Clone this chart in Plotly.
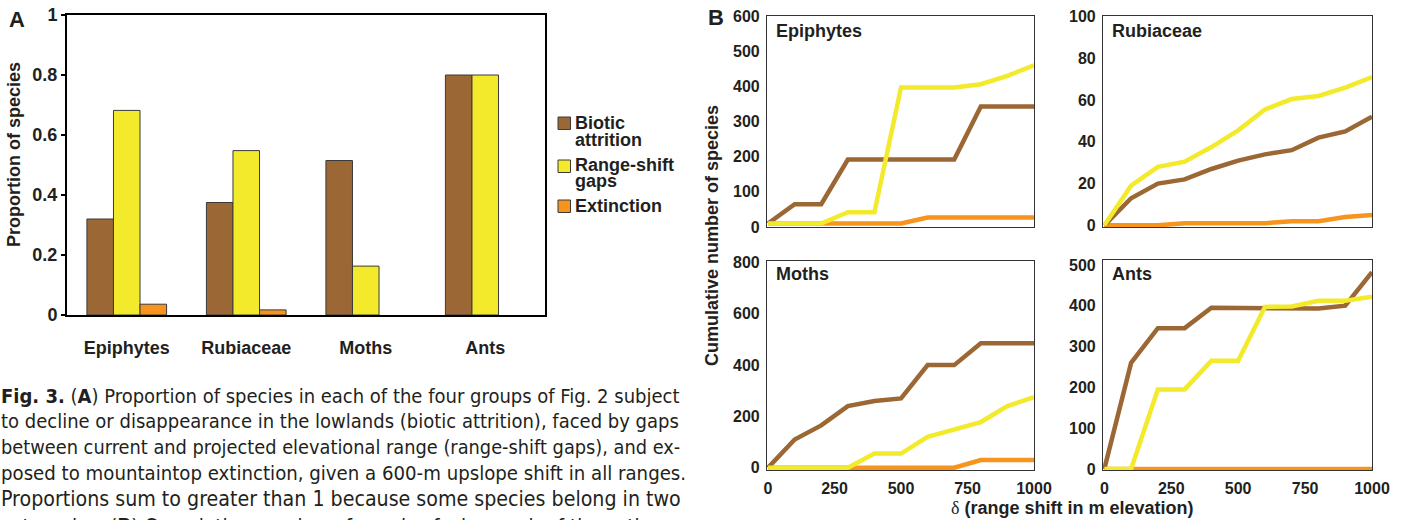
import plotly.graph_objects as go

W, H = 1402, 520

# ---------------- Panel A data ----------------
groups = ["Epiphytes", "Rubiaceae", "Moths", "Ants"]
biotic_attrition = [0.32, 0.375, 0.515, 0.80]
range_shift_gaps = [0.682, 0.548, 0.163, 0.80]
extinction = [0.036, 0.017, 0.0, 0.0]
a_ticks = [0, 0.2, 0.4, 0.6, 0.8, 1.0]
a_ticktext = ["0", "0.2", "0.4", "0.6", "0.8", "1"]

# ---------------- Panel B data ----------------
delta = [0, 100, 200, 300, 400, 500, 600, 700, 800, 900, 1000]
epi_biotic = [10, 65, 65, 192, 192, 192, 192, 192, 343, 343, 343]
epi_gaps = [10, 10, 10, 42, 42, 397, 397, 397, 406, 430, 460]
epi_ext = [10, 10, 10, 10, 10, 10, 27, 27, 27, 27, 27]
rub_biotic = [0, 13, 20, 22, 27, 31, 34, 36, 42, 45, 52]
rub_gaps = [0, 19, 28, 30.5, 37.5, 45.5, 55.5, 60.5, 62, 66, 71]
rub_ext = [0, 0, 0, 1, 1, 1, 1, 2, 2, 4, 5]
moth_biotic = [0, 110, 165, 240, 260, 270, 400, 400, 485, 485, 485]
moth_gaps = [0, 0, 0, 0, 55, 55, 120, 148, 178, 240, 275]
moth_ext = [0, 0, 0, 0, 0, 0, 0, 0, 30, 30, 30]
ant_biotic = [0, 260, 345, 345, 395, 395, 395, 395, 393, 400, 482]
ant_gaps = [0, 0, 195, 195, 265, 265, 397, 398, 412, 412, 422]
ant_ext = [0, 0, 0, 0, 0, 0, 0, 0, 0, 0, 0]
b_xticks = [0, 250, 500, 750, 1000]

BROWN = "#9B6734"
YELLOW = "#F2EA2A"
ORANGE = "#F7941D"
TXT = "#231F20"
SANS = "Liberation Sans, Arial, Helvetica, sans-serif"
NARROW = "DejaVu Sans Condensed, Liberation Sans Narrow, sans-serif"


def px(x):
    return x / W


def py(y):
    return 1 - y / H


fig = go.Figure()

# Panel A bars (no outline drawn for zero-height bars)
for name, vals, col in [("Biotic attrition", biotic_attrition, BROWN),
                        ("Range-shift gaps", range_shift_gaps, YELLOW),
                        ("Extinction", extinction, ORANGE)]:
    fig.add_trace(go.Bar(x=groups, y=vals, name=name, xaxis="x", yaxis="y",
                         marker=dict(color=col,
                                     line=dict(color="#3a3a3a",
                                               width=[1 if v > 0 else 0 for v in vals])),
                         showlegend=False))

# Panel B lines
panels = [
    ("x2", "y2", epi_biotic, epi_gaps, epi_ext),
    ("x3", "y3", rub_biotic, rub_gaps, rub_ext),
    ("x4", "y4", moth_biotic, moth_gaps, moth_ext),
    ("x5", "y5", ant_biotic, ant_gaps, ant_ext),
]
for xa, ya, b, g, e in panels:
    for vals, col in [(e, ORANGE), (b, BROWN), (g, YELLOW)]:
        fig.add_trace(go.Scatter(x=delta, y=vals, mode="lines", xaxis=xa, yaxis=ya,
                                 line=dict(color=col, width=4.5), showlegend=False))

tickfont_a = dict(family=SANS, size=18, color=TXT, weight="bold")
tickfont_b = dict(family=SANS, size=16, color=TXT, weight="bold")

layout = dict(
    template="none",
    width=W, height=H, margin=dict(l=0, r=0, t=0, b=0, pad=0), autosize=False,
    paper_bgcolor="white", plot_bgcolor="white",
    barmode="group", bargap=1/3, bargroupgap=0,
    showlegend=False,
    xaxis=dict(domain=[px(67), px(545)], range=[-0.5, 3.5], showline=True, mirror=True,
               linecolor="black", linewidth=2, ticks="", tickfont=tickfont_a,
               ticklabelstandoff=15, showgrid=False, zeroline=False, automargin=False),
    yaxis=dict(domain=[py(315), py(15)], range=[0, 1], showline=True, mirror=True,
               linecolor="black", linewidth=2, ticks="outside", ticklen=4, tickwidth=1.5,
               tickcolor="black", tickvals=a_ticks, ticktext=a_ticktext, tickfont=tickfont_a,
               showgrid=False, zeroline=False, anchor="x", automargin=False),
)

b_axes = {
    "2": ([767, 1034], [16, 227], [-4, 1000], [0, 600], [0, 100, 200, 300, 400, 500, 600], False),
    "3": ([1103, 1372], [16, 227], [-5, 1000], [-0.8, 100.3], [0, 20, 40, 60, 80, 100], False),
    "4": ([767, 1034], [261, 470], [-4, 1000], [-9, 806], [0, 200, 400, 600, 800], True),
    "5": ([1103, 1372], [260, 470], [-5, 1000], [-2.5, 512], [0, 100, 200, 300, 400, 500], True),
}
for k, (xd, yd, xr, yr, yt, showx) in b_axes.items():
    layout["xaxis" + k] = dict(domain=[px(xd[0]), px(xd[1])], range=xr, anchor="y" + k,
                               showline=True, mirror=True, linecolor="#333", linewidth=1.2,
                               ticks="", tickvals=b_xticks, showticklabels=showx,
                               tickfont=tickfont_b, ticklabelstandoff=4,
                               showgrid=False, zeroline=False, automargin=False)
    layout["yaxis" + k] = dict(domain=[py(yd[1]), py(yd[0])], range=yr, anchor="x" + k,
                               showline=True, mirror=True, linecolor="#333", linewidth=1.2,
                               ticks="", tickvals=yt, tickfont=tickfont_b,
                               ticklabelstandoff=3,
                               showgrid=False, zeroline=False, automargin=False)

fig.update_layout(**layout)

ann = []


def add_text(text, x, y, size=18, bold=True, xanchor="left", yanchor="middle",
             family=SANS, angle=0):
    ann.append(dict(text=text, x=px(x), y=py(y), xref="paper", yref="paper",
                    xanchor=xanchor, yanchor=yanchor, showarrow=False, textangle=angle,
                    borderpad=0,
                    font=dict(family=family, size=size, color=TXT,
                              weight="bold" if bold else "normal")))


# panel letters
add_text("A", 17, 20, size=22, xanchor="center")
add_text("B", 716, 18, size=22, xanchor="center")

# axis titles
add_text("Proportion of species", 14, 155, xanchor="center", angle=-90)
add_text("Cumulative number of species", 712, 236, xanchor="center", angle=-90)
add_text("<span style='font-family:Liberation Serif, Times New Roman, serif;font-weight:normal'>δ</span>"
         " (range shift in m elevation)", 1072, 508, xanchor="center")

# subplot titles
add_text("Epiphytes", 775, 31)
add_text("Rubiaceae", 1111, 31)
add_text("Moths", 775, 274)
add_text("Ants", 1111, 274)

# legend (manual swatches + labels)
shapes = []
for (y0, col) in [(117, BROWN), (160, YELLOW), (200, ORANGE)]:
    shapes.append(dict(type="rect", xref="paper", yref="paper",
                       x0=px(558), x1=px(570.5), y0=py(y0 + 12.5), y1=py(y0),
                       fillcolor=col, line=dict(color="#3a3a3a", width=1)))
add_text("Biotic", 574, 123)
add_text("attrition", 574, 140.5)
add_text("Range-shift", 574, 165)
add_text("gaps", 574, 181)
add_text("Extinction", 574, 206.5)

# caption
caption = [
    "<b>Fig. 3.</b> (<b>A</b>) Proportion of species in each of the four groups of Fig. 2 subject",
    "to decline or disappearance in the lowlands (biotic attrition), faced by gaps",
    "between current and projected elevational range (range-shift gaps), and ex-",
    "posed to mountaintop extinction, given a 600-m upslope shift in all ranges.",
    "Proportions sum to greater than 1 because some species belong in two",
    "categories. (<b>B</b>) Cumulative number of species facing each of these three",
]
caption_sizes = [20.0, 20.0, 19.8, 20.2, 21.2, 20.6]
baselines = [401.7, 427.3, 453, 478.7, 504.3, 533]
for line, fs, bl in zip(caption, caption_sizes, baselines):
    add_text(line, 0, bl - 6, size=fs, bold=False, family=NARROW)

fig.update_layout(annotations=ann, shapes=shapes)
fig.write_html("out.html", config={"displayModeBar": False},
               post_script="document.body.style.margin='0';document.body.style.overflow='hidden';")
